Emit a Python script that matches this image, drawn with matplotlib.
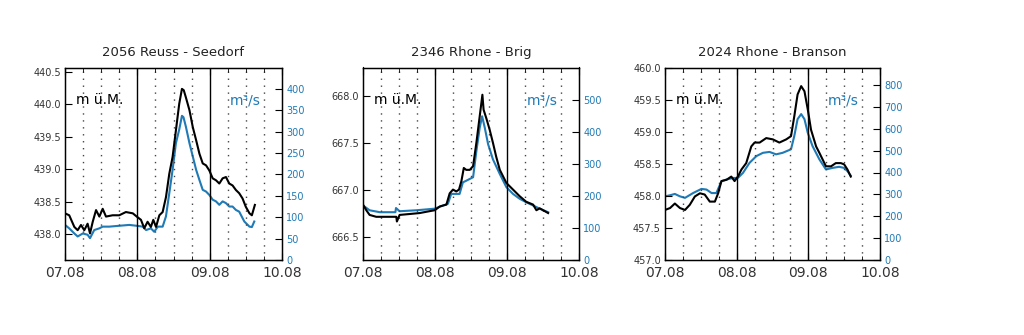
import matplotlib
matplotlib.use("Agg")
import matplotlib.pyplot as plt
import numpy as np

# ---------------- data ----------------
titles = ["2056 Reuss - Seedorf", "2346 Rhone - Brig", "2024 Rhone - Branson"]
day_labels = ["07.08", "08.08", "09.08", "10.08"]

# Panel 1 : Reuss - Seedorf (hours since 07.08 00:00)
p1_level_t = [0, 1.4, 3.1, 4.2, 5.3, 6.4, 7.5, 8.3, 9.2, 10.3, 11.4, 12.5, 13.6, 15.8, 18.0,
              20.2, 22.5, 23.8, 25.2, 26.3, 27.4, 28.5, 29.3, 30.2, 31.3, 32.4, 33.5, 34.6,
              35.7, 36.8, 37.9, 38.8, 39.4, 40.1, 41.3, 42.4, 43.5, 44.6, 45.7, 46.8, 47.9,
              49.0, 50.1, 51.2, 52.3, 53.4, 54.5, 55.6, 56.7, 57.8, 58.9, 60.0, 61.2, 62.0,
              62.5, 63.0]
p1_level = [438.32, 438.29, 438.11, 438.06, 438.14, 438.06, 438.16, 438.01, 438.19, 438.37,
            438.27, 438.39, 438.27, 438.29, 438.29, 438.34, 438.32, 438.27, 438.22, 438.09,
            438.19, 438.11, 438.22, 438.11, 438.29, 438.34, 438.57, 438.93, 439.19, 439.60,
            440.01, 440.24, 440.22, 440.11, 439.91, 439.65, 439.45, 439.24, 439.09, 439.06,
            438.98, 438.86, 438.83, 438.78, 438.86, 438.88, 438.78, 438.75, 438.68, 438.63,
            438.55, 438.42, 438.32, 438.29, 438.37, 438.45]
p1_flow_t = [0, 1.4, 3.1, 4.2, 5.9, 7.5, 8.3, 9.7, 11.4, 12.5, 14.7, 18.0, 21.3, 23.8, 25.8,
             26.9, 28.5, 29.6, 30.8, 32.4, 33.5, 34.6, 35.7, 36.8, 37.9, 38.8, 39.3, 40.1,
             41.3, 42.4, 43.5, 44.6, 45.7, 46.8, 47.9, 49.0, 50.1, 51.2, 52.3, 53.4, 54.5,
             55.6, 56.7, 57.8, 59.5, 61.2, 62.0, 62.8]
p1_flow = [82, 74, 62, 55, 62, 59, 51, 70, 74, 78, 78, 80, 82, 80, 78, 70, 74, 66, 78, 78,
           102, 156, 211, 273, 305, 337, 334, 312, 273, 242, 211, 187, 164, 160, 152, 141,
           137, 129, 137, 133, 125, 125, 117, 113, 90, 78, 77, 90]

# Panel 2 : Rhone - Brig
p2_level_t = [0, 1.1, 2.2, 4.4, 7.8, 11.1, 11.3, 12.2, 15.6, 18.9, 22.2, 23.9, 25.6, 27.8,
              28.9, 30.0, 31.1, 32.0, 32.8, 33.6, 34.4, 35.6, 36.7, 37.8, 38.9, 39.8, 40.2,
              41.1, 42.2, 43.3, 44.4, 45.6, 47.8, 50.0, 52.2, 54.4, 56.7, 57.8, 58.9, 60.6,
              61.7]
p2_level = [666.84, 666.78, 666.73, 666.71, 666.71, 666.71, 666.66, 666.73, 666.74, 666.75,
            666.77, 666.78, 666.82, 666.84, 666.96, 667.00, 666.98, 667.00, 667.09, 667.23,
            667.21, 667.21, 667.25, 667.50, 667.78, 668.01, 667.85, 667.76, 667.64, 667.50,
            667.35, 667.21, 667.07, 667.00, 666.93, 666.87, 666.84, 666.78, 666.80, 666.77,
            666.75]
p2_flow_t = [0, 2.2, 5.6, 10.8, 11.0, 12.2, 17.8, 23.9, 26.7, 28.3, 29.4, 31.1, 32.2, 33.3,
             34.4, 36.7, 37.8, 38.9, 39.7, 40.6, 41.7, 43.3, 45.6, 47.8, 50.0, 52.2, 54.4,
             56.7, 58.9, 61.7]
p2_flow = [170, 155, 149, 149, 162, 152, 155, 160, 170, 175, 206, 206, 206, 242, 247, 258,
           340, 412, 448, 412, 361, 314, 268, 227, 206, 191, 180, 170, 160, 149]

# Panel 3 : Rhone - Branson
p3_level_t = [0, 1.7, 3.3, 5.0, 6.7, 8.3, 10.0, 11.7, 13.3, 15.0, 16.7, 17.8, 18.9, 20.6,
              22.2, 23.3, 24.4, 25.6, 27.2, 28.9, 30.0, 31.7, 33.9, 36.1, 38.3, 40.6, 42.2,
              43.3, 44.4, 45.6, 46.7, 47.8, 48.9, 50.6, 51.7, 53.9, 55.6, 57.2, 58.9, 60.0,
              61.1, 62.2]
p3_level = [457.78, 457.81, 457.88, 457.81, 457.78, 457.86, 457.99, 458.04, 458.02, 457.91,
            457.91, 458.04, 458.23, 458.25, 458.30, 458.23, 458.30, 458.41, 458.51, 458.77,
            458.83, 458.83, 458.90, 458.88, 458.83, 458.88, 458.93, 459.24, 459.58, 459.71,
            459.63, 459.35, 459.03, 458.77, 458.67, 458.46, 458.46, 458.51, 458.51, 458.49,
            458.41, 458.30]
p3_flow_t = [0, 1.7, 3.3, 5.0, 6.7, 9.4, 12.2, 13.9, 15.6, 17.2, 18.9, 20.6, 22.8, 24.4,
             26.1, 28.3, 30.6, 32.8, 35.0, 37.2, 39.4, 42.2, 43.3, 44.4, 45.6, 46.7, 47.8,
             49.4, 51.7, 53.9, 56.1, 58.3, 60.0, 61.1, 62.2]
p3_flow = [291, 296, 302, 291, 284, 306, 325, 322, 306, 306, 360, 368, 375, 375, 398, 444,
           475, 490, 494, 483, 490, 506, 567, 644, 667, 644, 582, 521, 460, 414, 421, 426,
           421, 406, 386]

left_ticks = [[438.0, 438.5, 439.0, 439.5, 440.0, 440.5],
              [666.5, 667.0, 667.5, 668.0],
              [457.0, 457.5, 458.0, 458.5, 459.0, 459.5, 460.0]]
left_lims = [(437.6, 440.57), (666.25, 668.3), (457.0, 460.0)]
right_ticks = [[0, 50, 100, 150, 200, 250, 300, 350, 400],
               [0, 100, 200, 300, 400, 500],
               [0, 100, 200, 300, 400, 500, 600, 700, 800]]
right_lims = [(0, 450), (0, 600), (0, 880)]

levels = [(p1_level_t, p1_level), (p2_level_t, p2_level), (p3_level_t, p3_level)]
flows = [(p1_flow_t, p1_flow), (p2_flow_t, p2_flow), (p3_flow_t, p3_flow)]

# ---------------- plot ----------------
BLUE = "#1f7ab5"
fig = plt.figure(figsize=(10.24, 3.35), dpi=100)
fig.patch.set_facecolor("white")

lefts = [65 / 1024, 363 / 1024, 665 / 1024]
widths = [217 / 1024, 216 / 1024, 215 / 1024]
bottom = (335 - 260) / 335
height = (260 - 67.5) / 335

for i in range(3):
    ax = fig.add_axes([lefts[i], bottom, widths[i], height])
    ax2 = ax.twinx()
    ax.set_zorder(ax2.get_zorder() + 1)
    ax.patch.set_visible(False)

    # vertical 6-hour dotted lines and day separators
    for h in range(6, 72, 6):
        if h % 24 == 0:
            ax.axvline(h, color="k", lw=1.0, zorder=1)
        else:
            ax.axvline(h, color="#444444", lw=1.0, ls=(0, (1, 4)), zorder=1)

    t2, f2 = flows[i]
    ax2.plot(t2, f2, color=BLUE, lw=1.5)
    t1, l1 = levels[i]
    ax.plot(t1, l1, color="k", lw=1.5, zorder=3)

    ax.set_xlim(0, 72)
    ax.set_xticks([0, 24, 48, 72])
    ax.set_xticklabels(day_labels, fontsize=10, color="#333333")
    ax.set_xticks(np.arange(0, 73, 6), minor=True)
    ax.set_ylim(*left_lims[i])
    ax.set_yticks(left_ticks[i])
    ax.set_yticklabels(["%.1f" % v for v in left_ticks[i]], fontsize=7, color="#333333")
    ax.tick_params(axis="both", which="both", direction="in", top=True)
    ax.tick_params(axis="x", which="major", length=5, pad=4)
    ax.tick_params(axis="x", which="minor", length=3)
    ax.tick_params(axis="y", length=5, pad=3)

    ax2.set_ylim(*right_lims[i])
    ax2.set_yticks(right_ticks[i])
    ax2.set_yticklabels([str(v) for v in right_ticks[i]], fontsize=7, color=BLUE)
    ax2.tick_params(axis="y", direction="in", length=5, pad=3)

    for sp in ax.spines.values():
        sp.set_linewidth(1.0)

    ax.set_title(titles[i], fontsize=9.5, pad=8, color="#222222")
    ax.text(0.05, 0.83, "m ü.M.", transform=ax.transAxes, fontsize=10, color="k",
            ha="left", va="center", zorder=5)
    ax.text(0.9, 0.83, "m³/s", transform=ax.transAxes, fontsize=10, color=BLUE,
            ha="right", va="center", zorder=5)

fig.savefig("out.png", dpi=100, facecolor="white")
